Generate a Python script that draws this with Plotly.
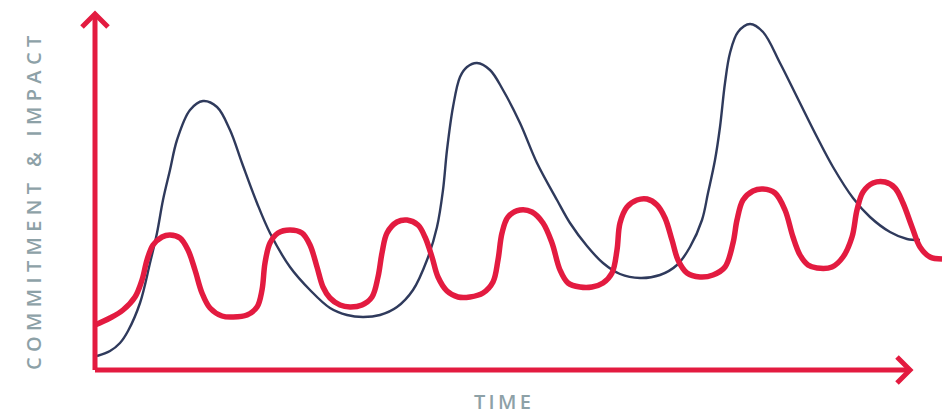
import plotly.graph_objects as go

# Commitment curve (navy): time vs level (units)
navy_t = [2, 15, 25, 33, 45, 55, 62, 68, 75, 82, 95, 108, 122, 135, 147, 162, 175, 195, 215, 235,
          252, 268, 285, 302, 318, 332, 342, 348, 352, 358, 365, 372, 382, 395, 408, 425, 442, 462,
          475, 492, 508, 525, 545, 565, 582, 595, 607, 613, 620, 625, 630, 635, 643, 655, 668, 685,
          702, 722, 738, 758, 775, 795, 812, 825]
navy_v = [14, 19, 27, 39, 67, 107, 137, 170, 200, 230, 260, 269, 263, 240, 207, 167, 137, 103, 80, 62,
          55, 53, 55, 63, 80, 110, 143, 180, 220, 263, 293, 303, 307, 300, 280, 247, 207, 170,
          147, 124, 107, 96, 92, 95, 105, 123, 150, 177, 210, 243, 287, 317, 338, 346, 338, 307,
          273, 233, 203, 172, 153, 138, 131, 130]

# Impact curve (red)
red_t = [0, 15, 28, 40, 47, 52, 58, 67, 75, 85, 93, 100, 107, 115, 127, 138, 152, 162, 167, 170,
         175, 183, 195, 207, 215, 222, 228, 235, 245, 255, 267, 277, 283, 287, 292, 302, 312, 323,
         330, 337, 343, 352, 363, 375, 388, 398, 403, 407, 413, 425, 437, 448, 457, 465, 473, 485,
         497, 508, 517, 522, 525, 532, 542, 552, 562, 570, 577, 583, 592, 605, 618, 630, 638, 642,
         648, 658, 668, 680, 690, 698, 705, 713, 722, 737, 748, 757, 762, 768, 778, 790, 800, 808,
         817, 825, 835, 847]
red_v = [45, 52, 60, 73, 90, 110, 125, 133, 135, 132, 120, 100, 77, 62, 54, 53, 55, 63, 80, 107,
         127, 137, 140, 137, 125, 103, 83, 72, 65, 63, 65, 73, 93, 117, 137, 148, 150, 145,
         133, 113, 93, 79, 73, 73, 77, 88, 110, 137, 153, 160, 158, 147, 127, 100, 87, 83,
         83, 87, 97, 120, 147, 163, 170, 171, 165, 152, 130, 110, 97, 93, 95, 103, 127, 150,
         170, 179, 181, 177, 160, 133, 115, 105, 102, 103, 113, 133, 160, 178, 187, 188, 182, 167,
         143, 123, 113, 111]

x_title = "TIME"
y_title = "COMMITMENT & IMPACT"

RED = "#e31b40"
NAVY = "#2f3a5c"
GREY = "#8da1a7"
THIN = "\u2009"
WIDE = "\u2009\u200a"

X_MAX = 852
Y_MAX = 359
X_TIP = 815
Y_TIP = 356

fig = go.Figure()
fig.add_trace(go.Scatter(x=navy_t, y=navy_v, mode="lines",
                         line=dict(color=NAVY, width=2.4, shape="spline", smoothing=1.0),
                         hoverinfo="skip", showlegend=False))
fig.add_trace(go.Scatter(x=red_t, y=red_v, mode="lines",
                         line=dict(color=RED, width=5.5, shape="spline", smoothing=1.0),
                         hoverinfo="skip", showlegend=False))

xt = X_TIP / X_MAX
yt = Y_TIP / Y_MAX
shapes = [
    dict(type="line", xref="paper", yref="paper", x0=0, y0=0, x1=0, y1=yt,
         line=dict(color=RED, width=5)),
    dict(type="line", xref="paper", yref="paper", x0=0, y0=0, x1=xt, y1=0,
         line=dict(color=RED, width=5)),
    dict(type="path", xref="paper", yref="paper", xsizemode="pixel", ysizemode="pixel",
         xanchor=0, yanchor=yt, path="M -13 -13 L 0 0 L 13 -13",
         line=dict(color=RED, width=5)),
    dict(type="path", xref="paper", yref="paper", xsizemode="pixel", ysizemode="pixel",
         xanchor=xt, yanchor=0, path="M -13 13 L 0 0 L -13 -13",
         line=dict(color=RED, width=5)),
]

annotations = [
    dict(text=THIN.join(list(x_title)), xref="paper", yref="paper", x=0.4777, y=-0.0864,
         showarrow=False, xanchor="center", yanchor="middle",
         font=dict(family="Open Sans", size=20, color=GREY, weight=600)),
    dict(text=WIDE.join(list(y_title)), xref="paper", yref="paper", x=-0.0728, y=0.465,
         showarrow=False, xanchor="center", yanchor="middle", textangle=-90,
         font=dict(family="Open Sans", size=20, color=GREY, weight=600)),
]

fig.update_layout(
    width=951, height=415,
    margin=dict(l=87, r=12, t=3, b=53),
    paper_bgcolor="white", plot_bgcolor="white",
    xaxis=dict(range=[0, X_MAX], visible=False, fixedrange=True),
    yaxis=dict(range=[0, Y_MAX], visible=False, fixedrange=True),
    shapes=shapes, annotations=annotations,
    showlegend=False,
)

fig.write_html("out.html")
